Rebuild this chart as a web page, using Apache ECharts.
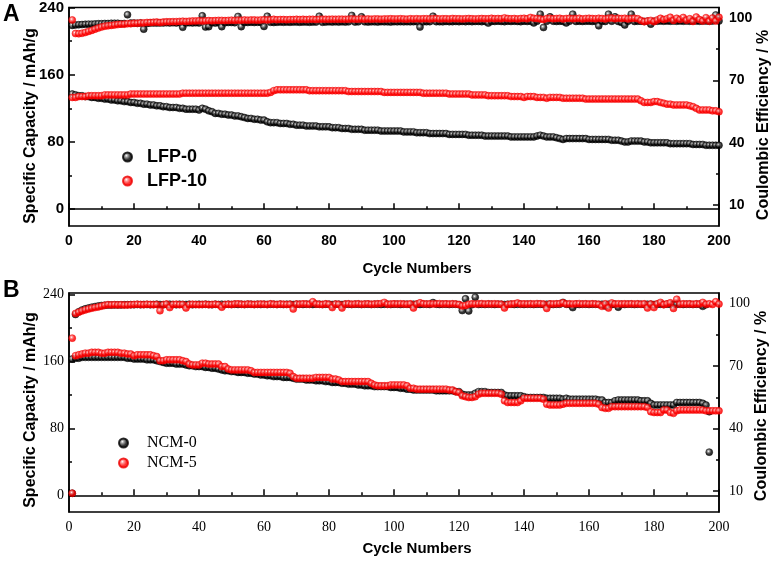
<!DOCTYPE html>
<html><head><meta charset="utf-8">
<script src="https://cdn.jsdelivr.net/npm/echarts@6/dist/echarts.min.js"></script>
<style>html,body{margin:0;padding:0;background:#fff}#c{width:775px;height:562px}</style>
</head><body><div id="c"></div>
<script>
// ---------- Panel A: LFP ----------
const xTicks = [0,20,40,60,80,100,120,140,160,180,200];
const capTicks = [0,80,160,240];
const capMinor = [40,120,200];
const ceTicks = [10,40,70,100];
const ceMinor = [25,55,85];

const lfp0Cap = [
137,136,135,135,134,134,133,133,132,132,
131,131,130,130,129,129,128,128,127,127,
126,126,125,125,124,124,123,123,122,122,
121,121,121,120,120,119,119,119,119,118,
120,119,117,116,114,114,113,113,112,112,
111,111,110,109,108,108,107,107,106,106,
104,103,103,103,102,102,102,101,101,100,
100,100,99,99,99,99,98,98,98,98,
97,97,97,96,96,96,95,95,95,95,
94,94,94,94,94,93,93,93,93,93,
93,93,92,92,92,92,91,91,91,91,
90,90,90,90,90,90,89,89,89,89,
89,89,88,88,88,88,88,87,87,87,
87,87,87,87,87,86,86,86,86,86,
86,86,86,87,88,87,86,86,86,85,
84,83,84,84,84,84,84,84,84,83,
83,83,83,83,83,83,82,82,82,81,
80,80,81,81,81,81,80,80,79,79,
79,79,79,79,78,78,78,78,78,78,
78,77,77,77,77,76,76,76,76,76];

const lfp10Cap = [
133,133,134,134,134,135,135,135,135,135,
136,136,136,136,136,136,136,136,137,137,
137,137,137,137,137,137,137,137,137,137,
137,137,137,137,138,138,138,138,138,138,
138,138,138,138,138,138,138,138,138,138,
138,138,138,138,138,138,138,138,138,138,
138,139,141,142,142,142,142,142,142,142,
142,142,142,141,141,141,141,141,141,141,
141,141,141,141,141,140,140,140,140,140,
140,140,140,140,140,140,139,139,139,139,
139,139,139,139,139,139,139,139,138,138,
138,138,138,138,138,138,137,137,137,137,
137,137,137,136,136,136,136,136,135,135,
135,135,135,135,135,134,134,134,134,133,
134,134,134,133,133,133,132,133,133,133,
133,132,132,132,132,132,132,132,131,131,
131,131,131,131,131,131,131,131,131,131,
131,131,131,131,131,129,127,127,127,128,
128,127,126,125,125,124,124,124,124,124,
123,122,120,118,118,118,118,117,117,116];

const lfp0CE = [
96.4,96.6,96.7,96.8,96.9,97,97,97.1,97.2,97.2,
97.3,97.3,97.4,97.4,97.4,97.2,97.3,101.5,97.5,97.5,
97.4,97.5,94.6,97.3,97.5,97.6,97.5,97.6,97.6,97.7,
97.6,97.7,97.6,97.7,95.5,97.6,97.7,97.6,97.7,97.6,
101,95.6,95.8,97.7,97.5,97.7,95.8,97.7,97.8,97.8,
97.7,100.7,95.8,97.8,97.8,97.9,97.8,97.9,97.8,95.9,
100.8,97.9,97.8,97.9,98,97.9,98,97.9,98,98,
97.9,98,98,97.9,98,98,100.8,97.9,98,98.1,
98,98.1,98,98.1,98,98.1,101.2,98,98.1,100.5,
98.1,98,98.1,98.1,98,98.2,98.1,98.1,98,98.2,
98.1,98.2,98.1,98.2,98.1,98.2,98.2,95.6,98.1,98.2,
98.2,100.8,98.2,98.2,98.1,98.3,98.2,98.2,98.3,98.2,
98.3,98.2,98.3,98.2,98.3,98.3,98.2,98.3,97.5,98.3,
98.3,98.4,98.3,98.2,98.4,98.3,98.4,98.3,98.2,98.4,
98.3,98.4,97.6,98.4,101.8,95.4,98.4,100.5,98.4,98.3,
98.4,98.3,97.6,98.4,101.8,98.3,98.4,98.3,98.4,98.4,
98.3,98.4,96.2,98.4,98.3,101.8,98.4,100.5,98.3,97.8,
96.6,98.4,101.8,98.3,98.4,98.4,98.3,98.4,97,98.4,
98.4,98.5,98.4,98.5,98.4,98.5,98.4,98.5,98.4,98.5,
98.4,98.5,98.5,98.4,98.5,98.5,98.4,98.5,101.4,98.5];

const lfp10CE = [
99,92.5,92.4,92.6,93,93.5,94,94.6,95.1,95.6,
96,96.2,96.4,96.6,96.8,97,97,97.2,97.2,97.4,
97.4,97.6,97.6,97.8,97.8,97.9,98,97.8,98,98.1,
98.1,98.2,98.2,98.3,98.4,98.3,98.4,98.5,98.5,98.6,
98.5,98.6,98.7,98.6,98.7,98.8,98.8,98.7,98.8,98.9,
98.8,98.9,98.9,99,98.9,99,99,98.9,99,99.1,
99,99.1,99.3,99.1,99.2,99.2,99.1,99.2,99.2,99.3,
99.2,99.3,99.2,99.3,99.3,99.2,99.3,99.4,99.3,99.3,
99.4,99.3,99.4,99.4,99.3,99.4,99.5,99.4,99.4,99.5,
99.4,99.5,99.4,99.5,99.5,99.4,99.5,99.5,99.6,99.5,
99.5,99.6,99.5,99.4,99.6,99.5,99.6,99.5,99.6,99.6,
99.5,99.6,99.7,99.5,99.6,99.6,99.5,99.7,99.6,99.6,
99.5,99.6,99.7,99.6,99.5,99.6,99.7,99.6,99.6,99.8,
99.6,99.7,99.6,100,99.7,99.6,99.7,99.5,99.7,99.8,
99.6,100.2,99.8,99.7,99.5,99.2,99.7,99.8,99.6,99.7,
99.8,99.5,99.7,99.8,99.6,99.7,99.8,99.5,99.7,99.8,
99.7,99.6,99.8,99.7,99.5,99.8,99.9,99.6,99.8,99.7,
99.8,99.5,99.7,99.8,99.6,98.8,98.2,98.5,98.8,98.2,
99,99.8,99.2,99.6,100.3,98.8,99.8,99.2,100.2,98.9,
99.6,98.3,100.4,99.2,98.5,100.1,98.4,99.9,98.5,100.3];

// ---------- Panel B: NCM ----------
const ncm0Cap = [
163,164,164,165,165,165,165,165,165,165,
165,165,165,165,165,165,165,164,164,163,
163,163,163,162,162,162,161,160,159,158,
158,158,157,157,157,156,155,155,154,154,
154,153,153,152,152,151,150,149,149,148,
148,147,147,147,146,146,145,145,144,144,
143,143,142,142,142,141,141,141,140,139,
139,139,138,138,138,137,137,137,136,136,
135,135,135,134,134,133,133,133,132,132,
131,131,131,130,130,130,130,130,129,129,
129,128,128,127,127,126,126,126,126,126,
126,126,125,125,125,125,125,125,124,124,
121,120,120,120,122,124,124,124,123,123,
123,123,123,120,119,119,119,119,119,118,
117,117,117,117,117,117,116,116,116,116,
116,115,116,115,115,115,115,115,115,115,
115,115,114,114,111,111,111,113,114,114,
114,114,114,114,114,113,113,113,110,108,
108,108,108,108,108,108,111,111,111,111,
111,111,111,111,110,108,100];

const ncm5Cap = [
188,167,168,169,170,170,171,171,171,170,
170,171,171,171,171,170,170,169,169,167,
168,168,168,168,168,167,166,161,161,162,
162,162,162,162,161,160,157,156,156,156,
158,158,157,157,157,157,154,154,151,150,
150,150,150,150,150,149,147,147,147,147,
147,147,147,147,147,147,147,146,142,140,
140,140,140,140,140,141,141,141,141,141,
139,139,138,136,136,136,136,136,136,136,
136,136,134,132,131,131,131,131,132,132,
132,132,132,131,128,128,127,127,127,127,
127,127,127,127,127,127,126,126,124,123,
119,118,117,117,118,121,122,122,122,122,
122,122,121,113,111,111,111,111,113,116,
116,116,116,116,116,115,109,108,108,108,
108,109,110,110,110,110,110,110,110,110,
110,110,109,105,104,104,106,106,106,106,
106,106,106,106,106,106,106,105,100,99,
99,99,102,102,99,98,101,102,102,102,
102,102,102,102,102,101,101,101,101,101];

const ncm0CE = [
9,94.7,96,96.8,97.4,97.8,98.2,98.5,98.8,99,
99.1,99.2,99.2,99.3,99.3,99.3,99.4,99.4,99.4,99.4,
99.5,99.4,99.5,99.5,99.4,99.5,99.6,99.5,99.4,99.5,
99.6,99.5,99.4,99.6,99.5,99.5,99.6,99.4,99.5,99.6,
99.5,99.6,99.5,99.4,99.6,99.5,99.6,99.5,99.6,99.5,
99.6,99.5,99.6,99.5,99.6,99.6,99.5,99.6,99.5,99.6,
99.5,99.6,99.6,99.5,99.6,99.5,99.6,99.6,99.5,99.6,
99.6,99.5,99.6,99.6,99.5,99.6,99.6,99.5,99.6,99.6,
99.5,99.6,99.6,99.5,99.6,99.6,99.5,99.6,99.6,99.5,
99.6,99.6,99.5,99.6,99.6,99.5,99.6,99.6,99.5,99.6,
99.6,99.5,99.6,99.6,99.5,99.6,99.6,99.5,99.6,99.6,
99.5,100.4,99.6,99.5,99.6,99.6,99.5,99.6,99.6,99.4,
96.6,102.2,96.4,99.4,103,99.5,99.6,99.5,99.6,99.6,
99.5,99.6,99.6,99.5,99.6,99.6,99.5,99.6,99.6,99.5,
99.6,99.6,99.5,99.6,99.6,99.5,99.6,99.6,99.5,99.6,
99.6,100.5,99.6,99.5,98,99.6,99.5,99.6,99.6,99.5,
99.6,99.6,99.5,99.6,98.8,99.6,99.5,99.6,98.2,99.6,
99.5,99.6,99.6,99.5,99.6,99.6,99.5,99.6,99.6,99.5,
99.6,99.6,99.5,99.6,99.6,99.5,99.6,99.6,99.5,99.6,
99.6,99.5,99.6,99.6,98.6,99.4,28.7];

const ncm5CE = [
9,95.2,95.8,96.4,96.9,97.3,97.7,98,98.3,98.7,
99.1,99.4,99.3,99.4,99.3,99.4,99.2,99.3,99.4,99.5,
99.6,99.5,99.4,99.6,99.5,99.4,99.5,96.5,99.4,99.7,
98,99.5,99.6,99.4,99.5,97.8,99.4,99.6,99.5,99.4,
99.5,99.6,99.4,99.5,99.6,99.4,98.2,99.5,99.6,99.5,
99.7,99.8,99.6,99.5,99.7,99.6,99.5,99.6,99.7,99.6,
99.5,99.8,99.6,99.5,99.7,99.6,99.5,99.6,97.3,99.7,
99.6,99.8,99.7,99.6,100.8,99.7,99.6,99.5,99.8,99.6,
98,99.7,99.6,97.8,99.7,99.8,99.6,99.7,99.8,99.6,
99.7,99.8,99.6,99.7,99.8,99.9,100.5,99.6,99.7,99.8,
99.7,99.8,99.7,99.6,99.8,97.8,99.7,100.3,99.8,99.7,
99.8,99.7,99.8,99.9,99.7,99.8,99.7,99.8,99.7,99.5,
98.8,99,99.6,99.8,99.7,99.8,99.9,99.7,99.8,99.7,
99.8,99.7,99.6,97.8,99.5,99.7,99.8,100.2,99.7,99.8,
99.7,99.8,99.7,99.9,99.8,99.7,97.6,99.8,99.7,99.8,
99.9,100.3,99.7,99.8,99.7,99.8,99.9,99.7,99.8,99.7,
99.8,99.7,99.6,98.6,99.8,97.8,100.2,99.7,99.8,99.7,
99.8,99.7,99.8,99.7,99.8,99.6,99.8,97.8,99.7,98,
99.8,100.5,99.4,99.8,100.3,97.6,102,99.6,99.8,99.7,
99.8,99.6,99.8,99.7,100.5,99.6,99.8,99.5,100.8,99.7];

// ---------- build chart ----------
const SANS = 'Liberation Sans, Arial, sans-serif';
const SERIF = 'Liberation Serif, Times New Roman, serif';
const pairs = arr => arr.map((v, i) => [i + 1, v]);
const ball = (c, hi) => ({
  type: 'radial', x: 0.4, y: 0.38, r: 0.62,
  colorStops: [{offset: 0, color: '#ffffff'}, {offset: 0.22, color: hi}, {offset: 0.6, color: c}, {offset: 1, color: c}]
});
const RED = ball('#ff0000', '#ff8080');
const BLK = ball('#000000', '#8a8a8a');

const axLine = {show: true, lineStyle: {color: '#000', width: 1.5}};
function xAx(grid, font, bold) {
  return {
    gridIndex: grid, type: 'value', min: 0, max: 200, interval: 20,
    axisLine: axLine,
    axisTick: {show: true, inside: true, length: 6, lineStyle: {color: '#000', width: 1.5}},
    minorTick: {show: true, splitNumber: 2, length: 3, lineStyle: {color: '#000', width: 1.5}},
    splitLine: {show: false}, minorSplitLine: {show: false},
    axisLabel: {color: '#000', fontFamily: font, fontWeight: bold ? 'bold' : 'normal', fontSize: 14, margin: 8,
      customValues: xTicks}
  };
}
function yAx(grid, pos, min, max, major, minor, font, bold, fs, margin) {
  return [{
    gridIndex: grid, type: 'value', position: pos, min: min, max: max,
    axisLine: axLine,
    axisTick: {show: true, inside: true, length: 6, customValues: major, lineStyle: {color: '#000', width: 1.5}},
    splitLine: {show: false},
    axisLabel: {color: '#000', fontFamily: font, fontWeight: bold ? 'bold' : 'normal', fontSize: fs, margin: margin,
      customValues: major}
  }, {
    gridIndex: grid, type: 'value', position: pos, offset: 0, min: min, max: max,
    axisLine: {show: false},
    axisTick: {show: true, inside: true, length: 3, customValues: minor, lineStyle: {color: '#000', width: 1.5}},
    splitLine: {show: false},
    axisLabel: {show: false}
  }];
}
function sc(name, data, xi, yi, color, z) {
  return {
    name: name, type: 'scatter', xAxisIndex: xi, yAxisIndex: yi, data: pairs(data),
    symbol: 'circle', symbolSize: 7, z: z,
    itemStyle: {color: color, borderColor: color === RED ? '#ee0000' : '#000', borderWidth: 0.6},
    emphasis: {disabled: true}, silent: true
  };
}

const chart = echarts.init(document.getElementById('c'), null, {renderer: 'canvas'});
chart.setOption({
  animation: false,
  backgroundColor: '#fff',
  grid: [
    {left: 69, top: 7, width: 650, height: 219, show: true, borderColor: '#000', borderWidth: 1.5, backgroundColor: 'transparent'},
    {left: 69, top: 293, width: 650, height: 219, show: true, borderColor: '#000', borderWidth: 1.5, backgroundColor: 'transparent'}
  ],
  xAxis: [xAx(0, SANS, true), xAx(1, SERIF, false)],
  yAxis: [].concat(
    yAx(0, 'left', -20, 240, capTicks, capMinor, SANS, true, 15, 5),
    yAx(0, 'right', 0, 105, ceTicks, ceMinor, SANS, true, 14, 10),
    yAx(1, 'left', -20, 242, capTicks, capMinor, SERIF, false, 14, 5),
    yAx(1, 'right', 0, 105, ceTicks, ceMinor, SERIF, false, 14, 10)
  ),
  legend: [
    {data: ['LFP-0', 'LFP-10'], orient: 'vertical', left: 117, top: 143, itemWidth: 9, itemHeight: 9, itemGap: 6,
      selectedMode: false,
      textStyle: {fontFamily: SANS, fontWeight: 'bold', fontSize: 18, color: '#000', lineHeight: 11, padding: [0, 0, 0, 10]}},
    {data: ['NCM-0', 'NCM-5'], orient: 'vertical', left: 113, top: 430, itemWidth: 9, itemHeight: 9, itemGap: 4,
      selectedMode: false,
      textStyle: {fontFamily: SERIF, fontSize: 16, color: '#000', lineHeight: 11, padding: [0, 0, 0, 14]}}
  ],
  series: [
    sc('LFP-0', lfp0Cap, 0, 0, BLK, 2),
    sc('LFP-0 CE', lfp0CE, 0, 2, BLK, 2),
    sc('LFP-10', lfp10Cap, 0, 0, RED, 3),
    sc('LFP-10 CE', lfp10CE, 0, 2, RED, 3),
    sc('NCM-0', ncm0Cap, 1, 4, BLK, 2),
    sc('NCM-0 CE', ncm0CE, 1, 6, BLK, 2),
    sc('NCM-5', ncm5Cap, 1, 4, RED, 3),
    sc('NCM-5 CE', ncm5CE, 1, 6, RED, 3)
  ],
  graphic: [
    {type: 'text', left: 3, top: 3, style: {text: 'A', font: 'bold 23px ' + SANS, fill: '#000'}},
    {type: 'text', left: 3, top: 279, style: {text: 'B', font: 'bold 23px ' + SANS, fill: '#000'}},
    {type: 'text', x: 31, y: 126, rotation: Math.PI / 2,
      style: {text: 'Specific Capacity / mAh/g', font: 'bold 16px ' + SANS, fill: '#000', align: 'center', verticalAlign: 'middle'}},
    {type: 'text', x: 31, y: 410, rotation: Math.PI / 2,
      style: {text: 'Specific Capacity / mAh/g', font: 'bold 16px ' + SANS, fill: '#000', align: 'center', verticalAlign: 'middle'}},
    {type: 'text', x: 764, y: 125, rotation: Math.PI / 2,
      style: {text: 'Coulombic Efficiency / %', font: 'bold 16px ' + SANS, fill: '#000', align: 'center', verticalAlign: 'middle'}},
    {type: 'text', x: 762, y: 406, rotation: Math.PI / 2,
      style: {text: 'Coulombic Efficiency / %', font: 'bold 16px ' + SANS, fill: '#000', align: 'center', verticalAlign: 'middle'}},
    {type: 'text', x: 417, y: 269,
      style: {text: 'Cycle Numbers', font: 'bold 15px ' + SANS, fill: '#000', align: 'center', verticalAlign: 'middle'}},
    {type: 'text', x: 417, y: 549,
      style: {text: 'Cycle Numbers', font: 'bold 15px ' + SANS, fill: '#000', align: 'center', verticalAlign: 'middle'}}
  ]
});
</script>
</body></html>
